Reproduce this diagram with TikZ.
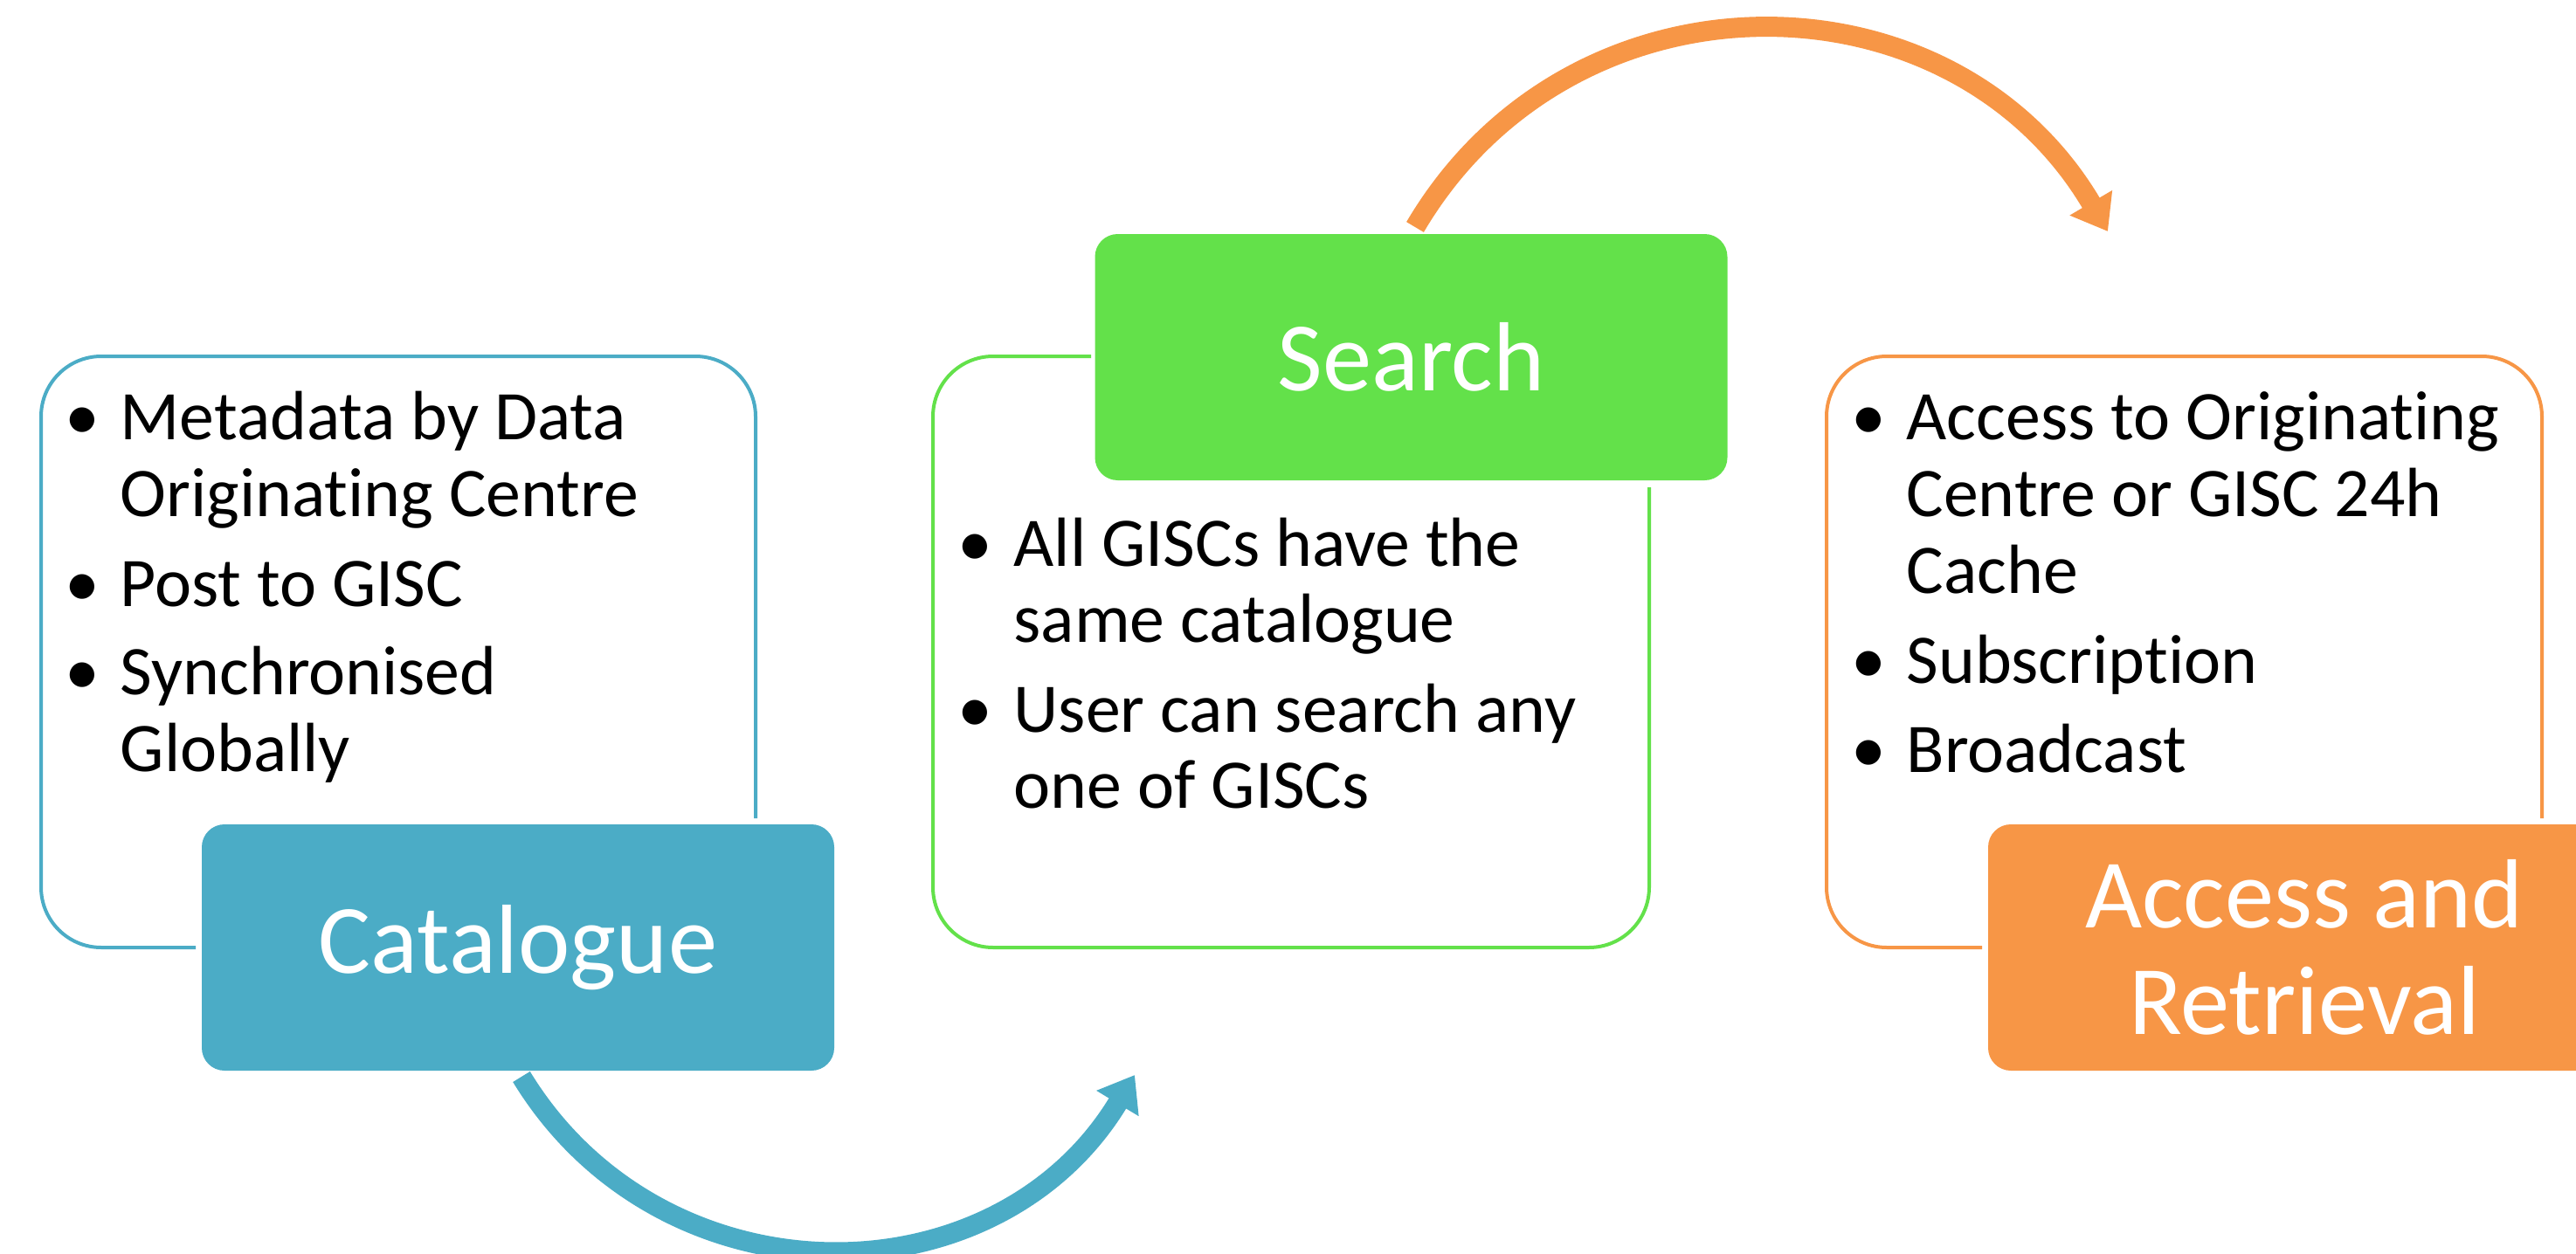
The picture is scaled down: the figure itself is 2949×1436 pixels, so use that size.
\documentclass[tikz,border=0pt]{standalone}
\usepackage{fontspec}
\setmainfont{Carlito}[Ligatures={NoCommon}]
\usetikzlibrary{arrows.meta}
\definecolor{cblue}{HTML}{4BACC6}
\definecolor{cgreen}{HTML}{63E14A}
\definecolor{corange}{HTML}{F79646}
\begin{document}
\begin{tikzpicture}[x=0.1mm,y=-0.1mm,
  titlebox/.style={rounded corners=2.6mm, minimum width=72.4mm, minimum height=28.2mm, text=white,
    font=\fontsize{32}{34.7}\selectfont, align=center, inner sep=0pt},
  framebox/.style={line width=0.4mm, rounded corners=6.9mm},
  txt/.style={anchor=base west, inner sep=0pt, font=\fontsize{22.7}{25}\selectfont},
  bul/.style={anchor=base, inner sep=0pt, font=\fontsize{22.7}{25}\selectfont},
  flowarrow/.style={line width=2.3mm, -{Triangle[length=3.8mm,width=5.4mm]}}
]
\useasboundingbox (0,0) rectangle (2949,1436);
\clip (0,0) rectangle (2949,1436);
\fill[white] (0,0) rectangle (2949,1436);

% frames
\draw[framebox, cblue] (865,937) -- (865,408) -- (47,408) -- (47,1085) -- (224,1085);
\draw[framebox, cgreen] (1249,408) -- (1068,408) -- (1068,1085) -- (1888,1085) -- (1888,558);
\draw[framebox, corange] (2910,937) -- (2910,408) -- (2091,408) -- (2091,1085) -- (2269,1085);

% title boxes
\node[titlebox, fill=cblue] (cat) at (593,1085) {Catalogue};
\node[titlebox, fill=cgreen] (sea) at (1615.5,409) {Search};
\node[titlebox, fill=corange] (acc) at (2638,1085) {Access and\\Retrieval};

% left list
\node[bul] (lb1) at (94,503) {\textbullet};
\node[txt] (l1) at (137,503) {Metadata by Data};
\node[txt] (l2) at (137,591) {Originating Centre};
\node[bul] (lb2) at (94,694) {\textbullet};
\node[txt] (l3) at (137,694) {Post to GISC};
\node[bul] (lb3) at (94,795) {\textbullet};
\node[txt] (l4) at (137,795) {Synchronised};
\node[txt] (l5) at (137,883) {Globally};

% middle list
\node[bul] (mb1) at (1116,648) {\textbullet};
\node[txt] (m1) at (1160,648) {All GISCs have the};
\node[txt] (m2) at (1160,735) {same catalogue};
\node[bul] (mb2) at (1116,838) {\textbullet};
\node[txt] (m3) at (1160,838) {User can search any};
\node[txt] (m4) at (1160,925) {one of GISCs};

% right list
\node[bul] (rb1) at (2139,503) {\textbullet};
\node[txt] (r1) at (2182,503) {Access to Originating};
\node[txt] (r2) at (2182,591) {Centre or GISC 24h};
\node[txt] (r3) at (2182,679) {Cache};
\node[bul] (rb2) at (2139,782) {\textbullet};
\node[txt] (r4) at (2182,782) {Subscription};
\node[bul] (rb3) at (2139,884) {\textbullet};
\node[txt] (r5) at (2182,884) {Broadcast};

% arrows
\coordinate (b0) at (597,1233);
\coordinate (b1) at (1299,1231);
\draw[flowarrow, cblue] (b0) .. controls (757,1496) and (1139,1496) .. (b1);
\coordinate (o0) at (1620,260);
\coordinate (o1) at (2413,265);
\draw[flowarrow, corange] (o0) .. controls (1799,-44) and (2234,-39) .. (o1);
\end{tikzpicture}
\end{document}
